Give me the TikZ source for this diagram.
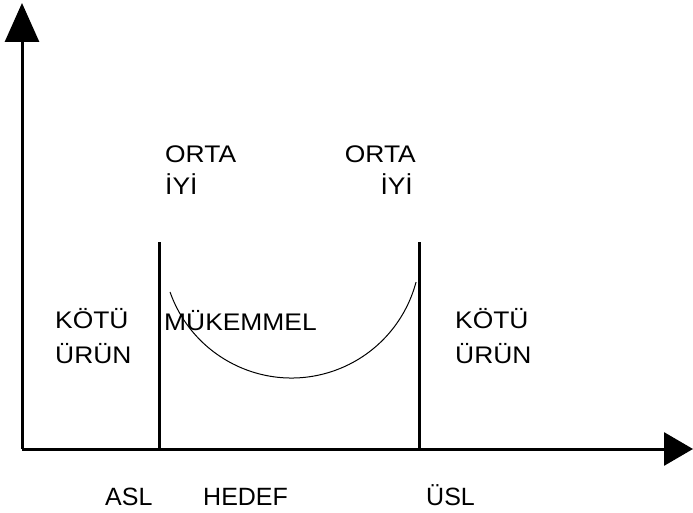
\documentclass[tikz,border=0pt]{standalone}
\usepackage{fontspec}
\setmainfont{Liberation Sans}
\newfontfamily\widefont[FakeStretch=1.1]{Liberation Sans}
\usetikzlibrary{arrows.meta}

\tikzset{
  limit/.style={line width=3pt},
  band/.style={anchor=base west, inner sep=0pt, font=\widefont\fontsize{24}{28}\selectfont},
  bandr/.style={band, anchor=base east},
  tick/.style={anchor=base west, inner sep=0pt, font=\fontsize{25}{30}\selectfont},
  loss/.style={line width=1pt}
}

\begin{document}
\begin{tikzpicture}[x=1pt, y=-1pt]
  \useasboundingbox (0,0) rectangle (693,513);

  % axes
  \coordinate (O) at (22,449);
  \coordinate (ytip) at (22,3);
  \coordinate (xtip) at (693,449);
  \draw[limit, -{Triangle[length=39pt,width=34pt]}] (O) -- (ytip);
  \draw[limit, -{Triangle[length=29pt,width=33pt]}] (O) -- (xtip);

  % specification limits
  \coordinate (asltop) at (159,242);
  \coordinate (aslbot) at (159,449);
  \coordinate (usltop) at (419,242);
  \coordinate (uslbot) at (419,449);
  \draw[limit] (asltop) -- (aslbot);
  \draw[limit] (usltop) -- (uslbot);

  % quality loss curve
  \coordinate (c0) at ({291.5+128.8*cos(160.6)},{249.2+128.8*sin(160.6)});
  \draw[loss] (c0) arc[start angle=160.6, end angle=14.8, radius=128.8];

  % region labels
  \node[band] (orta1) at (165,163) {ORTA};
  \node[band] (iyi1) at (165,195) {İYİ};
  \node[bandr] (orta2) at (416,163) {ORTA};
  \node[bandr] (iyi2) at (413,195) {İYİ};

  \node[band] (kotu1) at (55,328) {KÖTÜ};
  \node[band] (urun1) at (55,363) {ÜRÜN};
  \node[band] (mukemmel) at (164,330) {MÜKEMMEL};
  \node[band] (kotu2) at (455,328) {KÖTÜ};
  \node[band] (urun2) at (455,363) {ÜRÜN};

  % axis labels
  \node[tick] (asl) at (105,505) {ASL};
  \node[tick] (hedef) at (203,505) {HEDEF};
  \node[tick] (usl) at (426,505) {ÜSL};
\end{tikzpicture}
\end{document}
